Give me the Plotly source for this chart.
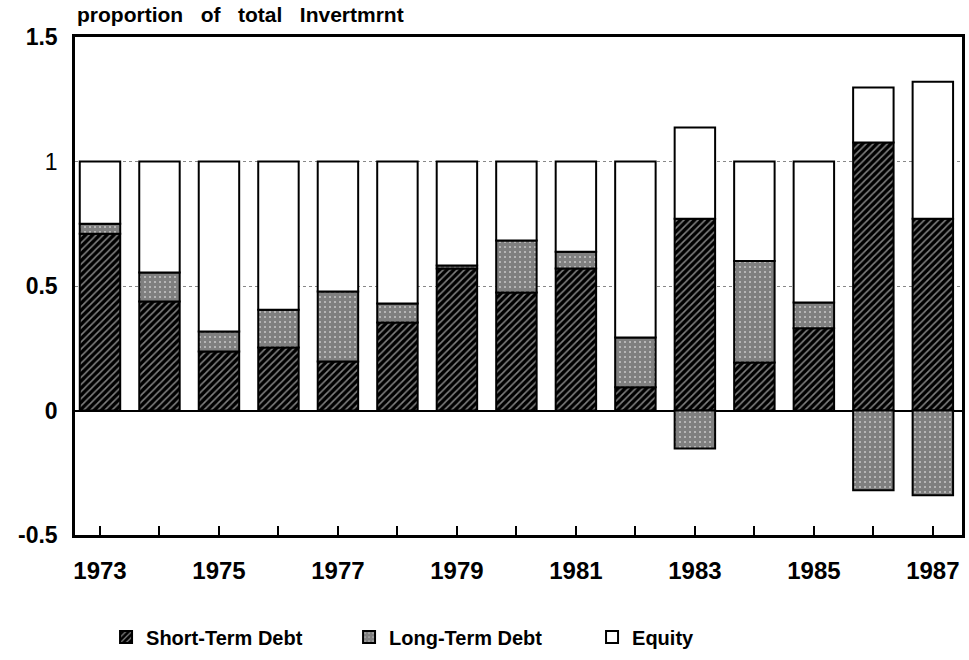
import plotly.graph_objects as go

years = list(range(1973, 1988))
short_term = [0.71, 0.438, 0.237, 0.253, 0.197, 0.353, 0.57, 0.474, 0.57, 0.093, 0.77, 0.193, 0.33, 1.076, 0.77]
long_term = [0.04, 0.116, 0.08, 0.152, 0.281, 0.077, 0.012, 0.209, 0.068, 0.2, -0.153, 0.407, 0.104, -0.32, -0.34]
equity = [0.25, 0.446, 0.683, 0.595, 0.522, 0.57, 0.418, 0.317, 0.362, 0.707, 0.367, 0.4, 0.566, 0.221, 0.55]
x_tick_labels = [str(y) if y % 2 == 1 else "" for y in years]
y_tick_vals = [-0.5, 0, 0.5, 1, 1.5]
y_tick_text = ["<b>-0.5</b>", "<b>0</b>", "<b>0.5</b>", "1", "<b>1.5</b>"]

FONT = "Liberation Sans, Arial, sans-serif"
BW = 0.68

fig = go.Figure()
fig.add_trace(go.Bar(
    x=years, y=short_term, name="Short-Term Debt", width=BW,
    marker=dict(color="black", line=dict(color="black", width=2),
                pattern=dict(shape="/", bgcolor="#000000", fgcolor="white",
                             size=5, solidity=0.32, fillmode="overlay")),
))
fig.add_trace(go.Bar(
    x=years, y=long_term, name="Long-Term Debt", width=BW,
    marker=dict(color="white", line=dict(color="black", width=2),
                pattern=dict(shape=".", bgcolor="white", fgcolor="black",
                             size=5, solidity=0.85, fillmode="overlay")),
))
fig.add_trace(go.Bar(
    x=years, y=equity, name="Equity", width=BW,
    marker=dict(color="white", line=dict(color="black", width=2)),
))

fig.update_layout(
    width=969, height=660,
    barmode="relative",
    plot_bgcolor="white", paper_bgcolor="white",
    margin=dict(l=75, r=7, t=37, b=125, autoexpand=False),
    font=dict(family=FONT, color="black"),
    showlegend=True,
    legend=dict(
        orientation="h", x=0.035, xanchor="left", y=-0.205, yanchor="middle",
        font=dict(size=20, family=FONT, weight="bold"),
        entrywidth=198, entrywidthmode="pixels",
        itemclick=False, itemdoubleclick=False,
    ),
    annotations=[dict(
        text="<b>proportion   of   total   Invertmrnt</b>",
        xref="paper", yref="paper", x=0.0, y=1.045,
        xanchor="left", yanchor="middle", showarrow=False,
        font=dict(size=21, family=FONT),
    )],
)

fig.update_xaxes(
    range=[1972.58, 1987.49], automargin=False,
    tickvals=years, ticktext=x_tick_labels,
    ticks="inside", ticklen=9, tickwidth=1.5, tickcolor="black",
    tickfont=dict(size=24, family=FONT, weight="bold"),
    ticklabelstandoff=12, ticklabeloverflow="allow",
    showline=True, linecolor="black", linewidth=2.5, mirror=True,
    showgrid=False, zeroline=False,
)
fig.update_yaxes(
    range=[-0.5, 1.5], automargin=False,
    tickvals=y_tick_vals, ticktext=y_tick_text,
    ticks="", ticklabelstandoff=10,
    tickfont=dict(size=23, family=FONT),
    showline=True, linecolor="black", linewidth=2.5, mirror=True,
    showgrid=True, gridcolor="#888888", griddash="dot", gridwidth=1,
    zeroline=True, zerolinecolor="black", zerolinewidth=1.5,
)

fig.write_html(
    "out.html",
    config={"displayModeBar": False},
    post_script="document.body.style.margin='0';document.body.style.overflow='hidden';",
)
